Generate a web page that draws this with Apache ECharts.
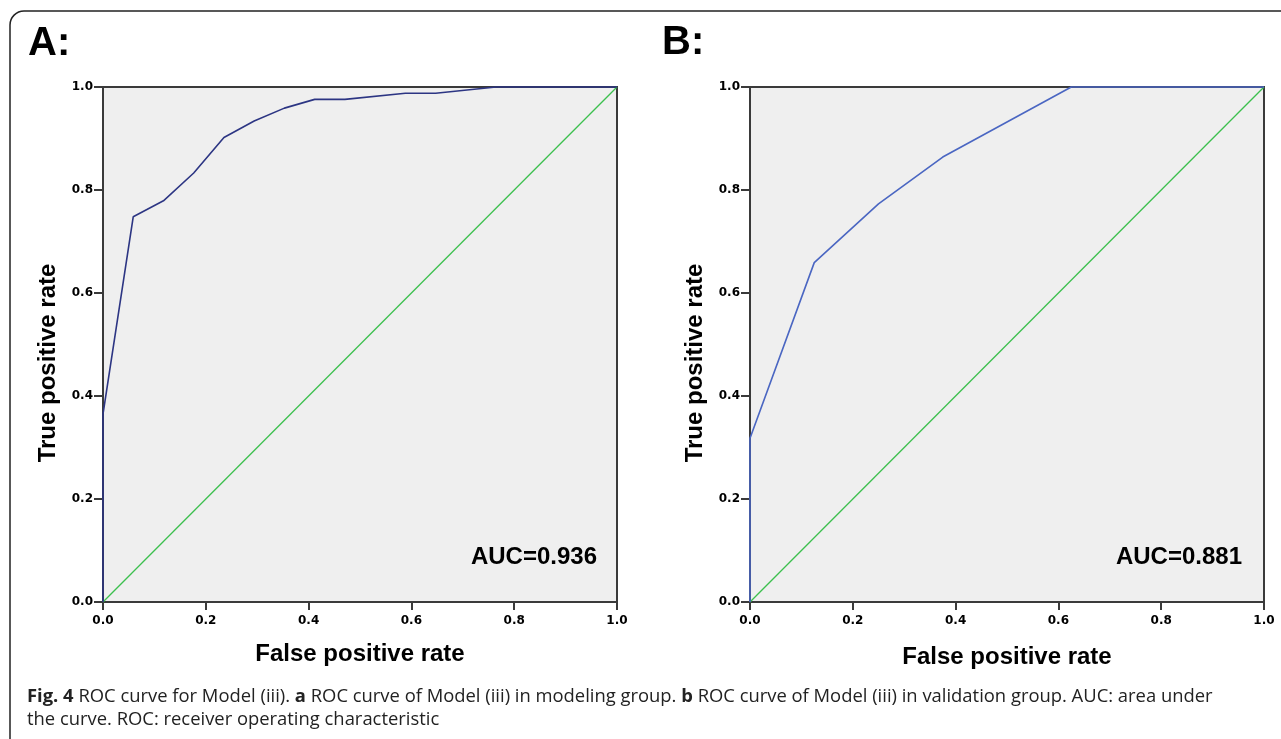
<!DOCTYPE html>
<html>
<head>
<meta charset="utf-8">
<script src="https://cdn.jsdelivr.net/npm/echarts@6/dist/echarts.min.js"></script>
<style>
html,body{margin:0;padding:0;background:#fff;}
#chart{width:1281px;height:739px;}
</style>
</head>
<body>
<div id="chart"></div>
<script>
// Panel A (modeling group)
var fprA = [0, 0, 0.0588, 0.1176, 0.1765, 0.2353, 0.2941, 0.3529, 0.4118, 0.4706, 0.5882, 0.6471, 0.7647, 1.0];
var tprA = [0, 0.365, 0.748, 0.779, 0.833, 0.902, 0.934, 0.959, 0.976, 0.976, 0.988, 0.988, 1.0, 1.0];
// Panel B (validation group)
var fprB = [0, 0, 0.125, 0.25, 0.375, 0.625, 1.0];
var tprB = [0, 0.318, 0.659, 0.773, 0.864, 1.0, 1.0];
// Reference diagonal
var diagX = [0, 1];
var diagY = [0, 1];
var aucA = 'AUC=0.936';
var aucB = 'AUC=0.881';
var panelLabels = ['A:', 'B:'];
var xTitle = 'False positive rate';
var yTitle = 'True positive rate';

function pairs(xs, ys){ return xs.map(function(x,i){ return [x, ys[i]]; }); }

var chart = echarts.init(document.getElementById('chart'), null, {renderer:'canvas'});

var frame = '#3a3a3a';
function xAxis(idx, gap){
  return {
    type:'value', gridIndex: idx, min:0, max:1, interval:0.2,
    name: xTitle, nameLocation:'middle', nameGap: gap,
    nameTextStyle:{fontFamily:'Liberation Sans, Arial', fontWeight:'bold', fontSize:24, color:'#000'},
    axisLine:{show:true, onZero:false, lineStyle:{color:frame, width:2}},
    axisTick:{show:true, length:8, lineStyle:{color:frame, width:2}},
    axisLabel:{margin:13, fontFamily:'DejaVu Sans', fontWeight:'bold', fontSize:12, color:'#000',
      formatter:function(v){return v.toFixed(1);}},
    splitLine:{show:false}
  };
}
function yAxis(idx){
  return {
    type:'value', gridIndex: idx, min:0, max:1, interval:0.2,
    name: yTitle, nameLocation:'middle', nameGap: 43,
    nameTextStyle:{fontFamily:'Liberation Sans, Arial', fontWeight:'bold', fontSize:24, color:'#000', padding:[0,37,0,0]},
    axisLine:{show:true, onZero:false, lineStyle:{color:frame, width:2}},
    axisTick:{show:true, length:9, lineStyle:{color:frame, width:2}},
    axisLabel:{margin:10, fontFamily:'DejaVu Sans', fontWeight:'bold', fontSize:12, color:'#000',
      formatter:function(v){return v.toFixed(1);}},
    splitLine:{show:false}
  };
}
function gridBox(left){
  return {left:left, top:87, width:514, height:515, show:true, backgroundColor:'#efefef',
    borderColor:frame, borderWidth:2, containLabel:false};
}

var capFont = 'Open Sans';
var capSize = 18.4;
var option = {
  animation:false,
  backgroundColor:'#fff',
  grid:[gridBox(103), gridBox(750)],
  xAxis:[xAxis(0, 40), xAxis(1, 43)],
  yAxis:[yAxis(0), yAxis(1)],
  series:[
    {type:'line', xAxisIndex:0, yAxisIndex:0, data:pairs(diagX, diagY), symbol:'none', clip:false,
      lineStyle:{color:'#3cc04e', width:1.3}, z:3},
    {type:'line', xAxisIndex:0, yAxisIndex:0, data:pairs(fprA, tprA), symbol:'none', clip:false,
      lineStyle:{color:'#2c3583', width:1.6}, z:4},
    {type:'line', xAxisIndex:1, yAxisIndex:1, data:pairs(diagX, diagY), symbol:'none', clip:false,
      lineStyle:{color:'#3cc04e', width:1.3}, z:3},
    {type:'line', xAxisIndex:1, yAxisIndex:1, data:pairs(fprB, tprB), symbol:'none', clip:false,
      lineStyle:{color:'#4a66c2', width:1.6}, z:4}
  ],
  graphic:[
    {type:'rect', shape:{x:10, y:11, width:1300, height:780, r:14}, silent:true, z:-1,
      style:{fill:'none', stroke:'#222', lineWidth:1.5}},
    {type:'text', x:28, y:44, style:{text:panelLabels[0], font:'bold 40px "Liberation Sans", Arial', fill:'#000', textVerticalAlign:'middle'}},
    {type:'text', x:662, y:43, style:{text:panelLabels[1], font:'bold 40px "Liberation Sans", Arial', fill:'#000', textVerticalAlign:'middle'}},
    {type:'text', x:597, y:557, z:10, style:{text:aucA, font:'bold 24px "Liberation Sans", Arial', fill:'#000', textAlign:'right', textVerticalAlign:'middle'}},
    {type:'text', x:1242, y:557, z:10, style:{text:aucB, font:'bold 24px "Liberation Sans", Arial', fill:'#000', textAlign:'right', textVerticalAlign:'middle'}},
    {type:'text', x:27, y:697, style:{
      text:'{b|Fig. 4} ROC curve for Model (iii). {b|a} ROC curve of Model (iii) in modeling group. {b|b} ROC curve of Model (iii) in validation group. AUC: area under',
      fontFamily:capFont, fontSize:capSize, fill:'#222', textVerticalAlign:'middle',
      rich:{b:{fontFamily:capFont, fontSize:capSize, fontWeight:'bold', color:'#222'}}}},
    {type:'text', x:27, y:720, style:{
      text:'the curve. ROC: receiver operating characteristic',
      fontFamily:capFont, fontSize:capSize, fill:'#222', textVerticalAlign:'middle'}}
  ]
};
chart.setOption(option);
</script>
</body>
</html>
